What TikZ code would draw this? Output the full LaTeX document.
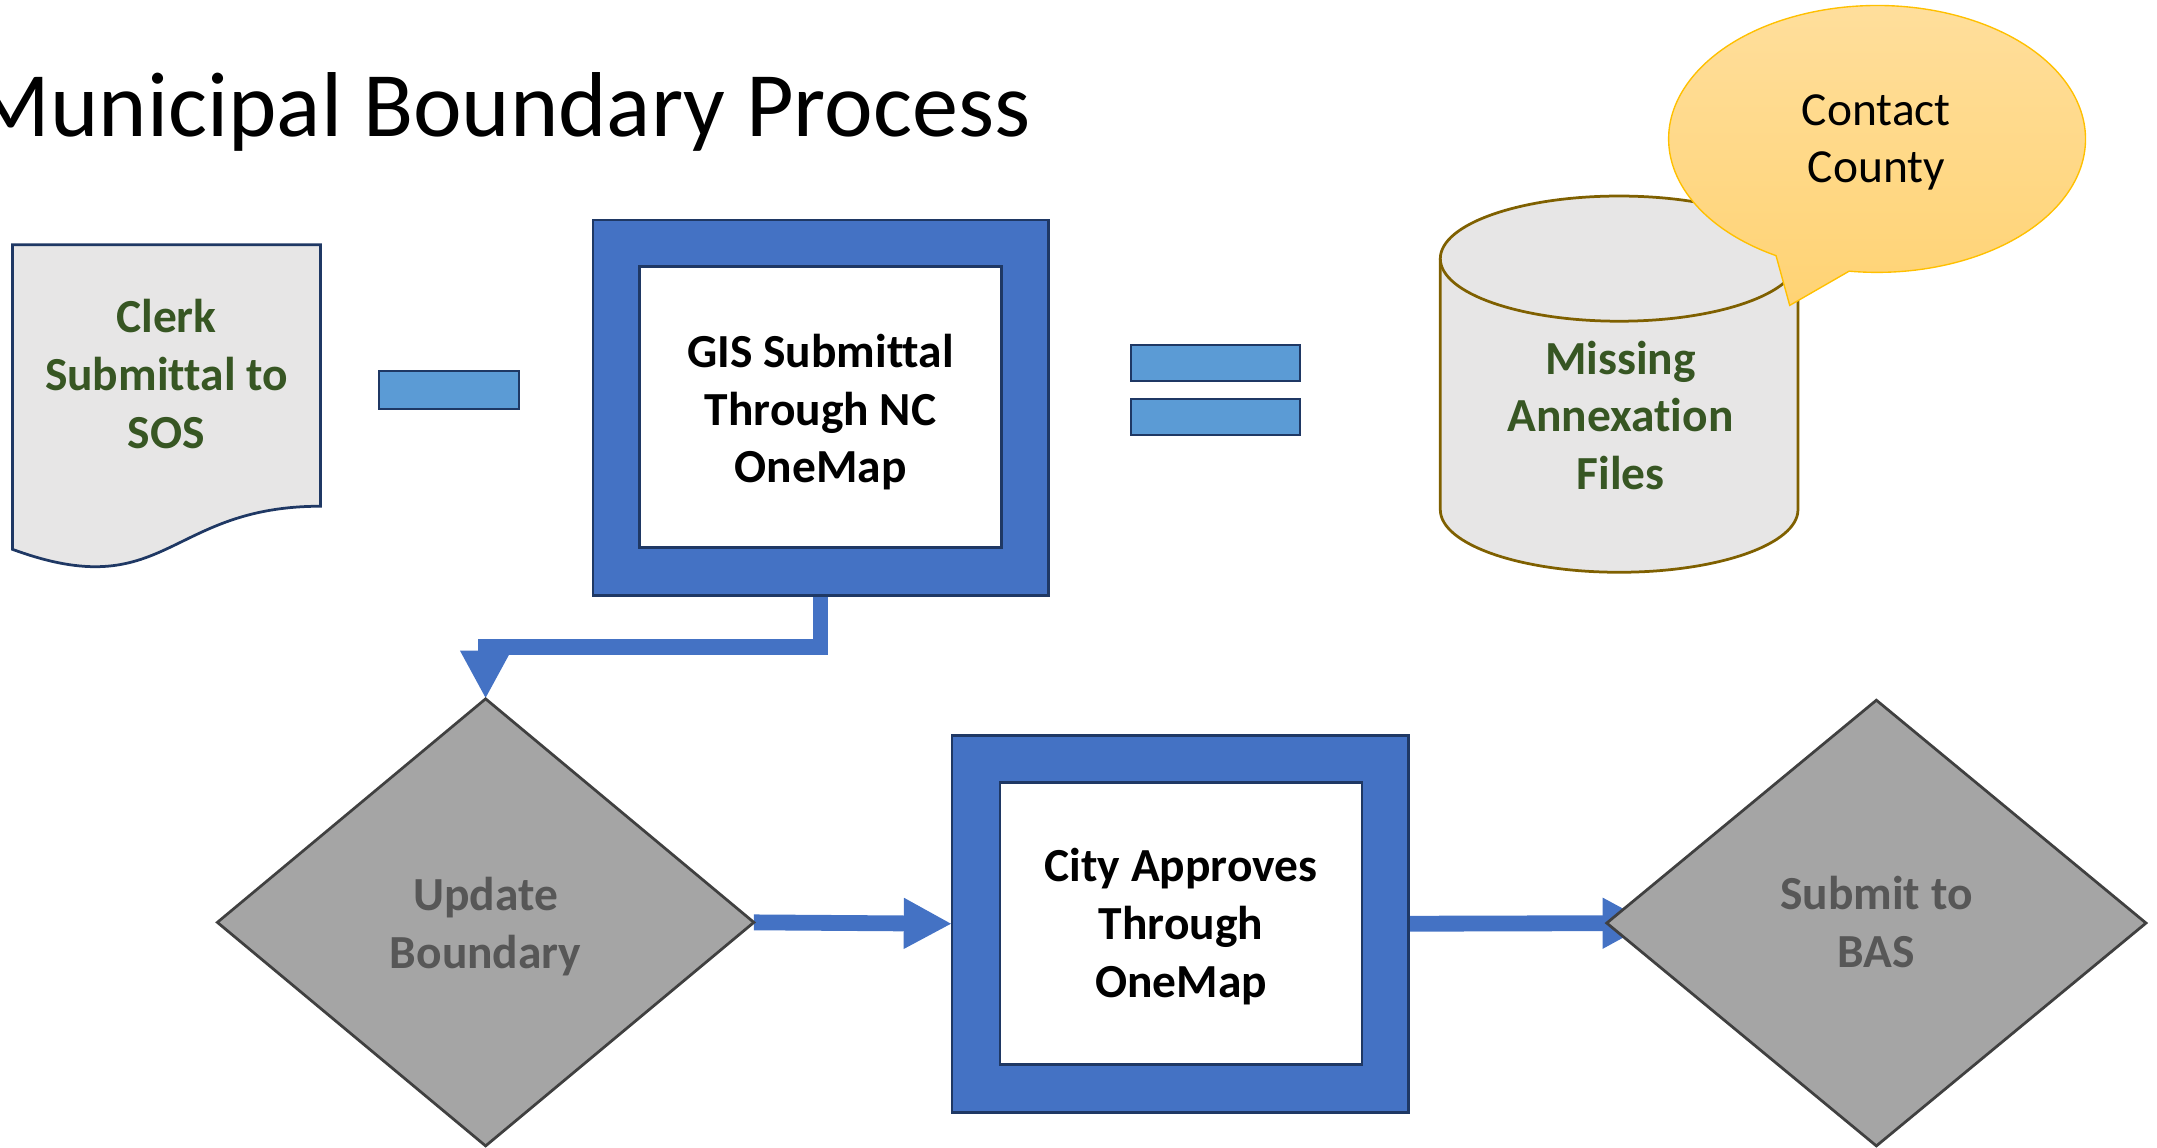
\documentclass[tikz,border=0pt]{standalone}
\usepackage{fontspec}
\setmainfont{Carlito}[Ligatures=NoCommon]
\usetikzlibrary{shapes.geometric,arrows.meta,calc,backgrounds}
\definecolor{navy}{HTML}{1F3864}
\definecolor{boxblue}{HTML}{4472C4}
\definecolor{lightblue}{HTML}{5B9BD5}
\definecolor{docgray}{HTML}{E7E6E6}
\definecolor{dgreen}{HTML}{375623}
\definecolor{diagray}{HTML}{A5A5A5}
\definecolor{diaedge}{HTML}{404040}
\definecolor{diatext}{HTML}{575757}
\definecolor{canedge}{HTML}{7F6000}
\definecolor{bubedge}{HTML}{FFC000}
\definecolor{bubtop}{HTML}{FFDF9E}
\definecolor{bubbot}{HTML}{FFD374}
\newcommand{\lines}[1]{\begin{tabular}[b]{@{}c@{}}#1\end{tabular}}
\begin{document}
\begin{tikzpicture}[x=1pt,y=-1pt,
  txt/.style={inner sep=0pt, outer sep=0pt, anchor=base, font=\fontsize{34.5}{42}\selectfont},
  boldtxt/.style={inner sep=0pt, outer sep=0pt, anchor=base, font=\fontsize{34.5}{42}\selectfont\bfseries},
  outerbox/.style={rectangle, draw=navy, line width=2pt, fill=boxblue, inner sep=0pt, outer sep=0pt},
  innerbox/.style={rectangle, draw=navy, line width=2pt, fill=white, inner sep=0pt, outer sep=0pt},
  dia/.style={diamond, draw=diaedge, line width=2pt, fill=diagray, inner sep=0pt, outer sep=0pt},
  bar/.style={draw=navy, line width=1.5pt, fill=lightblue},
  conn/.style={draw=boxblue, line width=11.5pt, -{Triangle[length=35pt,width=34.5pt]}},
]
\useasboundingbox (0,0) rectangle (1568,833.8);

% title
\node[inner sep=0pt, outer sep=0pt, anchor=base east, font=\fontsize{67}{80}\selectfont] (title) at (749,99) {Municipal Boundary Process};

% document shape
\draw[draw=navy, line width=2pt, fill=docgray] (9,178) -- (233,178) -- (233,368) .. controls (121,368) and (121,440.5) .. (9,399.3) -- cycle;
\node[boldtxt, text=dgreen] (clerk) at (121,326) {\lines{Clerk\\Submittal to\\SOS}};

% minus and equals
\draw[bar] (275.5,270) rectangle (377,297);
\draw[bar] (822,251) rectangle (945,277);
\draw[bar] (822,290) rectangle (945,316);

% GIS box
\node[outerbox, minimum width=331pt, minimum height=273pt] (gis) at (596.5,296.5) {};
\node[innerbox, minimum width=263pt, minimum height=204pt] (gisin) at (596.5,296) {};
\node[boldtxt] (gist) at (596.5,351) {\lines{GIS Submittal\\Through NC\\OneMap}};

% cylinder
\draw[draw=canedge, line width=2pt, fill=docgray] (1047,188) -- (1047,370.5) arc[start angle=180, end angle=0, x radius=130, y radius=45.5] -- (1307,188) arc[start angle=0, end angle=-180, x radius=130, y radius=45.5] -- cycle;
\draw[draw=canedge, line width=2pt] (1047,188) arc[start angle=180, end angle=0, x radius=130, y radius=45.5];
\node[boldtxt, text=dgreen] (missing) at (1178,356) {\lines{Missing\\Annexation\\Files}};

% speech bubble
\draw[draw=bubedge, line width=1pt, top color=bubtop, bottom color=bubbot] (1291.05,185.84) arc[start angle=119, end angle=457.7, x radius=151.5, y radius=97] -- (1301,222) -- cycle;
\node[txt] (contact) at (1364,133) {\lines{Contact\\County}};

% update diamond
\node[dia, minimum width=390pt, minimum height=325pt] (upd) at (353,670.5) {};
\node[boldtxt, text=diatext] (updt) at (353,704) {\lines{Update\\Boundary}};

% city box
\node[outerbox, minimum width=332pt, minimum height=274pt] (city) at (858,671.5) {};
\node[innerbox, minimum width=263pt, minimum height=205pt] (cityin) at (858.5,671.5) {};
\node[boldtxt] (cityt) at (858.5,725) {\lines{City Approves\\Through\\OneMap}};

% BAS diamond
\node[dia, minimum width=392pt, minimum height=324pt] (bas) at (1364,671) {};
\node[boldtxt, text=diatext] (bast) at (1364,703) {\lines{Submit to\\BAS}};

% connectors
\begin{pgfonlayer}{background}
\draw[conn] (gis.south) -- ($(gis.south)+(0,37.5)$) -| (upd.north);
\draw[conn] (upd.east) -- (city.west);
\draw[conn] (city.east) -- ([xshift=32pt]bas.west);
\end{pgfonlayer}
\end{tikzpicture}
\end{document}
